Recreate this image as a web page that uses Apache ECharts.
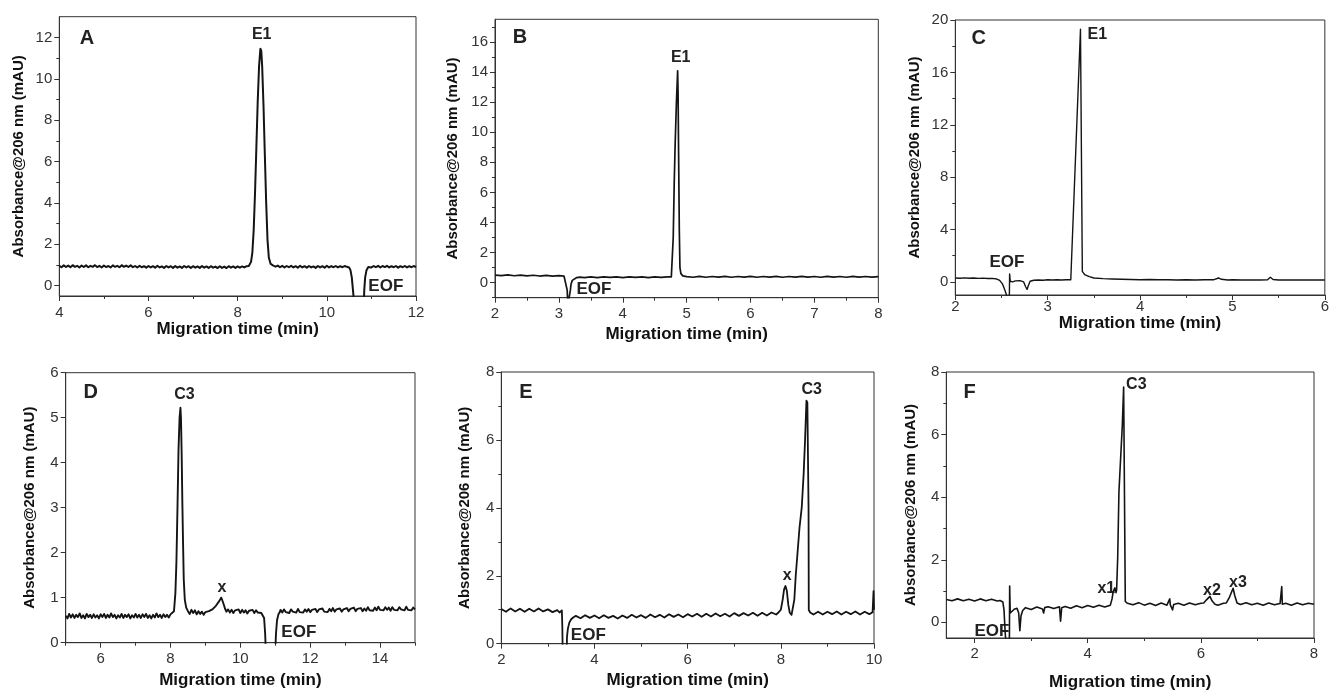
<!DOCTYPE html>
<html>
<head>
<meta charset="utf-8">
<script src="https://cdn.jsdelivr.net/npm/echarts@6/dist/echarts.min.js"></script>
<style>
html,body{margin:0;padding:0;background:#fff;}
#chart{width:1332px;height:692px;}
</style>
</head>
<body>
<div id="chart"></div>
<script>
// ---------- DATA (time in min, absorbance in mAU) ----------
const traceA = [
[4.00,0.96],[4.05,0.89],[4.10,0.98],[4.15,0.90],[4.20,0.97],[4.25,0.89],[4.30,0.99],[4.35,0.91],[4.40,0.96],[4.45,0.88],
[4.50,0.97],[4.55,0.90],[4.60,0.98],[4.65,0.89],[4.70,0.96],[4.75,0.91],[4.80,0.99],[4.85,0.90],[4.90,0.96],[4.95,0.88],
[5.00,0.97],[5.05,0.90],[5.10,0.95],[5.15,0.88],[5.20,0.98],[5.25,0.91],[5.30,0.96],[5.35,0.89],[5.40,0.99],[5.45,0.91],
[5.50,0.97],[5.55,0.90],[5.60,0.98],[5.65,0.89],[5.70,0.95],[5.75,0.88],[5.80,0.96],[5.85,0.89],[5.90,0.94],[5.95,0.87],
[6.00,0.95],[6.05,0.88],[6.10,0.94],[6.15,0.87],[6.20,0.96],[6.25,0.88],[6.30,0.93],[6.35,0.86],[6.40,0.95],[6.45,0.88],
[6.50,0.94],[6.55,0.86],[6.60,0.95],[6.65,0.87],[6.70,0.93],[6.75,0.86],[6.80,0.95],[6.85,0.88],[6.90,0.94],[6.95,0.86],
[7.00,0.94],[7.05,0.87],[7.10,0.93],[7.15,0.86],[7.20,0.95],[7.25,0.87],[7.30,0.93],[7.35,0.86],[7.40,0.94],[7.45,0.87],
[7.50,0.92],[7.55,0.85],[7.60,0.94],[7.65,0.86],[7.70,0.92],[7.75,0.85],[7.80,0.94],[7.85,0.87],[7.90,0.93],[7.95,0.86],
[8.00,0.93],[8.05,0.87],[8.10,0.93],[8.15,0.88],[8.20,0.94],[8.25,0.95],[8.30,1.15],[8.33,1.6],[8.36,2.7],[8.39,4.5],
[8.42,6.7],[8.45,8.9],[8.48,10.6],[8.51,11.45],[8.53,11.35],[8.55,10.6],[8.58,8.7],[8.61,6.3],[8.64,4.0],[8.67,2.2],
[8.70,1.35],[8.74,1.05],[8.80,0.97],[8.85,0.92],[8.90,0.97],[8.95,0.89],[9.00,0.96],[9.05,0.88],[9.10,0.95],[9.15,0.89],
[9.20,0.96],[9.25,0.88],[9.30,0.94],[9.35,0.87],[9.40,0.96],[9.45,0.88],[9.50,0.94],[9.55,0.87],[9.60,0.95],[9.65,0.88],
[9.70,0.93],[9.75,0.86],[9.80,0.95],[9.85,0.88],[9.90,0.94],[9.95,0.87],[10.00,0.96],[10.05,0.88],[10.10,0.94],[10.15,0.89],
[10.20,0.95],[10.25,0.88],[10.30,0.94],[10.35,0.89],[10.40,0.95],[10.45,0.91],[10.50,0.88],[10.53,0.75],[10.56,0.4],[10.59,-0.3],
[10.61,-0.8],[10.83,-0.8],[10.84,-0.2],[10.86,0.4],[10.89,0.75],[10.93,0.90],[10.95,0.94],[11.00,0.88],[11.05,0.95],[11.10,0.89],
[11.15,0.96],[11.20,0.88],[11.25,0.95],[11.30,0.90],[11.35,0.96],[11.40,0.88],[11.45,0.94],[11.50,0.89],[11.55,0.95],[11.60,0.87],
[11.65,0.94],[11.70,0.89],[11.75,0.95],[11.80,0.88],[11.85,0.94],[11.90,0.89],[11.95,0.95],[12.00,0.90]
];
const traceB = [
[2.0,0.50],[2.1,0.47],[2.2,0.52],[2.3,0.46],[2.4,0.50],[2.5,0.45],[2.6,0.49],[2.7,0.44],[2.8,0.48],[2.9,0.43],
[3.0,0.47],[3.08,0.44],[3.11,0.42],[3.13,-0.5],[3.14,-1.5],[3.17,-1.5],[3.18,-0.5],[3.19,-0.1],[3.21,0.15],[3.24,0.28],
[3.28,0.34],[3.33,0.37],[3.4,0.34],[3.5,0.38],[3.6,0.34],[3.7,0.39],[3.8,0.35],[3.9,0.39],[4.0,0.34],[4.1,0.38],
[4.2,0.35],[4.3,0.39],[4.4,0.34],[4.5,0.39],[4.6,0.35],[4.7,0.38],[4.76,0.38],[4.775,0.5],[4.79,3.0],[4.805,6.5],
[4.82,9.2],[4.84,12.0],[4.859,14.08],[4.866,12.5],[4.874,8.6],[4.885,3.5],[4.895,1.0],[4.91,0.6],[4.94,0.45],[5.0,0.40],
[5.1,0.36],[5.2,0.42],[5.3,0.36],[5.4,0.41],[5.5,0.37],[5.6,0.42],[5.7,0.36],[5.8,0.41],[5.9,0.37],[6.0,0.42],
[6.1,0.36],[6.2,0.41],[6.3,0.37],[6.4,0.42],[6.5,0.36],[6.6,0.41],[6.7,0.37],[6.8,0.42],[6.9,0.37],[7.0,0.41],
[7.1,0.36],[7.2,0.42],[7.3,0.37],[7.4,0.41],[7.5,0.36],[7.6,0.42],[7.7,0.37],[7.8,0.41],[7.9,0.37],[8.0,0.40]
];
const traceC = [
[2.0,0.30],[2.05,0.28],[2.1,0.31],[2.15,0.28],[2.2,0.30],[2.25,0.27],[2.3,0.29],[2.35,0.26],[2.4,0.27],[2.45,0.22],
[2.48,0.12],[2.51,-0.15],[2.53,-0.5],[2.55,-0.9],[2.56,-1.2],[2.585,-1.2],[2.588,0.6],[2.595,0.05],[2.62,0.0],[2.65,0.08],
[2.7,0.1],[2.74,0.0],[2.76,-0.35],[2.777,-0.58],[2.79,-0.3],[2.81,0.05],[2.85,0.13],[2.9,0.15],[2.95,0.13],[3.0,0.16],
[3.05,0.14],[3.1,0.16],[3.15,0.15],[3.2,0.17],[3.25,0.16],[3.265,0.2],[3.355,19.3],[3.362,19.3],[3.375,0.8],[3.40,0.55],
[3.45,0.4],[3.5,0.3],[3.6,0.25],[3.7,0.22],[3.8,0.2],[3.9,0.18],[4.0,0.17],[4.1,0.18],[4.2,0.16],[4.3,0.17],
[4.4,0.15],[4.5,0.16],[4.6,0.15],[4.7,0.16],[4.8,0.17],[4.85,0.3],[4.88,0.2],[4.95,0.15],[5.0,0.16],[5.1,0.14],
[5.2,0.15],[5.3,0.14],[5.38,0.16],[5.41,0.35],[5.44,0.18],[5.5,0.14],[5.6,0.15],[5.7,0.14],[5.8,0.15],[5.9,0.14],[6.0,0.15]
];
const traceD = [
[5.00,0.60],[5.05,0.54],[5.10,0.64],[5.15,0.56],[5.20,0.63],[5.25,0.55],[5.30,0.62],[5.35,0.57],[5.40,0.65],[5.45,0.55],
[5.50,0.61],[5.55,0.54],[5.60,0.64],[5.65,0.57],[5.70,0.62],[5.75,0.55],[5.80,0.63],[5.85,0.56],[5.90,0.61],[5.95,0.54],
[6.00,0.63],[6.05,0.57],[6.10,0.64],[6.15,0.55],[6.20,0.62],[6.25,0.56],[6.30,0.65],[6.35,0.57],[6.40,0.62],[6.45,0.54],
[6.50,0.61],[6.55,0.56],[6.60,0.64],[6.65,0.55],[6.70,0.62],[6.75,0.57],[6.80,0.63],[6.85,0.54],[6.90,0.61],[6.95,0.56],
[7.00,0.64],[7.05,0.56],[7.10,0.62],[7.15,0.55],[7.20,0.63],[7.25,0.57],[7.30,0.64],[7.35,0.55],[7.40,0.61],[7.45,0.54],
[7.50,0.62],[7.55,0.56],[7.60,0.65],[7.65,0.57],[7.70,0.62],[7.75,0.55],[7.80,0.63],[7.85,0.57],[7.90,0.62],[7.95,0.56],
[8.00,0.63],[8.05,0.64],[8.10,0.70],[8.14,1.1],[8.17,1.8],[8.20,3.0],[8.23,4.3],[8.26,5.0],[8.285,5.22],[8.30,5.0],
[8.32,4.2],[8.34,3.1],[8.36,2.2],[8.38,1.4],[8.41,0.95],[8.45,0.78],[8.50,0.70],[8.55,0.64],[8.60,0.73],[8.65,0.66],
[8.70,0.72],[8.75,0.63],[8.80,0.70],[8.85,0.64],[8.90,0.69],[8.95,0.62],[9.00,0.68],[9.05,0.64],[9.10,0.70],[9.15,0.67],
[9.20,0.74],[9.25,0.75],[9.30,0.82],[9.35,0.84],[9.40,0.93],[9.45,1.0],[9.48,0.95],[9.52,0.86],[9.56,0.76],[9.60,0.69],
[9.65,0.74],[9.70,0.67],[9.75,0.73],[9.80,0.66],[9.85,0.72],[9.90,0.68],[9.95,0.74],[10.00,0.66],[10.05,0.73],[10.10,0.67],
[10.15,0.72],[10.20,0.65],[10.25,0.71],[10.30,0.67],[10.35,0.73],[10.40,0.66],[10.45,0.72],[10.50,0.67],[10.55,0.71],[10.60,0.66],
[10.65,0.66],[10.68,0.55],[10.71,0.2],[10.73,-0.2],[11.00,-0.2],[11.02,0.2],[11.05,0.5],[11.09,0.63],[11.13,0.68],[11.15,0.73],
[11.20,0.67],[11.25,0.74],[11.30,0.68],[11.35,0.72],[11.40,0.66],[11.45,0.74],[11.50,0.69],[11.55,0.73],[11.60,0.67],[11.65,0.75],
[11.70,0.68],[11.75,0.72],[11.80,0.67],[11.85,0.74],[11.90,0.69],[11.95,0.75],[12.00,0.68],[12.05,0.73],[12.10,0.69],[12.15,0.75],
[12.20,0.68],[12.25,0.74],[12.30,0.70],[12.35,0.76],[12.40,0.69],[12.45,0.73],[12.50,0.68],[12.55,0.75],[12.60,0.70],[12.65,0.77],
[12.70,0.69],[12.75,0.74],[12.80,0.70],[12.85,0.76],[12.90,0.69],[12.95,0.74],[13.00,0.71],[13.05,0.77],[13.10,0.70],[13.15,0.75],
[13.20,0.71],[13.25,0.78],[13.30,0.70],[13.35,0.75],[13.40,0.72],[13.45,0.77],[13.50,0.70],[13.55,0.76],[13.60,0.71],[13.65,0.79],
[13.70,0.72],[13.75,0.76],[13.80,0.71],[13.85,0.78],[13.90,0.72],[13.95,0.80],[14.00,0.73],[14.05,0.77],[14.10,0.72],[14.15,0.79],
[14.20,0.73],[14.25,0.78],[14.30,0.71],[14.35,0.79],[14.40,0.73],[14.45,0.77],[14.50,0.72],[14.55,0.79],[14.60,0.74],[14.65,0.78],
[14.70,0.72],[14.75,0.80],[14.80,0.73],[14.85,0.77],[14.90,0.72],[14.95,0.78],[15.00,0.74]
];
const traceE = [
[2.0,1.02],[2.1,0.94],[2.2,1.04],[2.3,0.95],[2.4,1.03],[2.5,0.94],[2.6,1.03],[2.7,0.95],[2.8,1.04],[2.9,0.95],
[3.0,1.01],[3.1,0.93],[3.2,0.99],[3.25,0.92],[3.30,0.98],[3.31,0.5],[3.32,-0.5],[3.40,-0.5],[3.41,0.2],[3.43,0.45],
[3.46,0.62],[3.50,0.72],[3.55,0.78],[3.6,0.82],[3.7,0.75],[3.8,0.84],[3.9,0.76],[4.0,0.83],[4.1,0.75],[4.2,0.84],
[4.3,0.76],[4.4,0.82],[4.5,0.74],[4.6,0.83],[4.7,0.76],[4.8,0.85],[4.9,0.77],[5.0,0.84],[5.1,0.76],[5.2,0.86],
[5.3,0.78],[5.4,0.85],[5.5,0.77],[5.6,0.87],[5.7,0.79],[5.8,0.86],[5.9,0.78],[6.0,0.87],[6.1,0.80],[6.2,0.88],
[6.3,0.79],[6.4,0.88],[6.5,0.80],[6.6,0.89],[6.7,0.81],[6.8,0.88],[6.9,0.80],[7.0,0.90],[7.1,0.82],[7.2,0.90],
[7.3,0.83],[7.4,0.91],[7.5,0.82],[7.6,0.91],[7.7,0.83],[7.8,0.92],[7.9,0.86],[7.95,0.92],[8.00,1.0],[8.04,1.3],
[8.07,1.6],[8.10,1.70],[8.13,1.55],[8.16,1.15],[8.19,0.92],[8.23,0.85],[8.26,0.88],[8.29,1.3],[8.32,2.0],[8.36,2.7],
[8.40,3.4],[8.45,4.03],[8.49,5.0],[8.52,5.99],[8.55,7.16],[8.57,7.1],[8.595,4.0],[8.60,0.99],[8.63,0.92],[8.7,0.86],
[8.8,0.94],[8.9,0.86],[9.0,0.94],[9.1,0.87],[9.2,0.95],[9.3,0.86],[9.4,0.94],[9.5,0.87],[9.6,0.95],[9.7,0.86],
[9.8,0.94],[9.9,0.87],[9.97,0.93],[9.99,1.55],[10.0,1.0]
];
const traceF = [
[1.5,0.73],[1.6,0.69],[1.7,0.75],[1.8,0.69],[1.9,0.74],[2.0,0.68],[2.1,0.75],[2.2,0.69],[2.3,0.74],[2.4,0.68],
[2.45,0.70],[2.50,0.65],[2.52,0.4],[2.54,-0.3],[2.56,-0.8],[2.615,-0.8],[2.62,1.16],[2.63,0.3],[2.66,0.35],[2.7,0.42],
[2.75,0.45],[2.78,0.3],[2.80,-0.27],[2.82,0.2],[2.85,0.38],[2.9,0.47],[3.0,0.41],[3.1,0.49],[3.2,0.43],[3.22,0.3],
[3.24,0.47],[3.3,0.50],[3.4,0.44],[3.5,0.50],[3.52,0.04],[3.54,0.47],[3.6,0.51],[3.7,0.45],[3.8,0.53],[3.9,0.47],
[4.0,0.54],[4.1,0.48],[4.2,0.55],[4.3,0.49],[4.4,0.55],[4.43,0.75],[4.45,0.98],[4.48,1.1],[4.50,0.95],[4.511,1.04],
[4.53,2.08],[4.552,4.18],[4.611,6.28],[4.635,7.52],[4.645,7.52],[4.664,0.67],[4.7,0.61],[4.8,0.56],[4.9,0.63],[5.0,0.55],
[5.1,0.61],[5.2,0.54],[5.3,0.62],[5.4,0.55],[5.45,0.75],[5.46,0.56],[5.5,0.40],[5.52,0.57],[5.6,0.61],[5.7,0.55],
[5.8,0.62],[5.9,0.56],[6.0,0.61],[6.05,0.62],[6.1,0.72],[6.16,0.83],[6.2,0.68],[6.25,0.58],[6.3,0.55],[6.4,0.61],
[6.45,0.62],[6.5,0.78],[6.57,1.09],[6.6,0.85],[6.64,0.62],[6.7,0.57],[6.8,0.63],[6.9,0.56],[7.0,0.61],[7.1,0.55],
[7.2,0.62],[7.3,0.56],[7.4,0.60],[7.43,1.14],[7.44,0.58],[7.5,0.61],[7.6,0.55],[7.7,0.62],[7.8,0.56],[7.9,0.61],[8.0,0.58]
];

// ---------- TICKS ----------
const xTicksA = [4,6,8,10,12],            xMinorA = [5,7,9,11];
const yTicksA = [0,2,4,6,8,10,12],        yMinorA = [1,3,5,7,9,11];
const xTicksB = [2,3,4,5,6,7,8],          xMinorB = [2.5,3.5,4.5,5.5,6.5,7.5];
const yTicksB = [0,2,4,6,8,10,12,14,16],  yMinorB = [-1,1,3,5,7,9,11,13,15,17];
const xTicksC = [2,3,4,5,6],              xMinorC = [2.5,3.5,4.5,5.5];
const yTicksC = [0,4,8,12,16,20],         yMinorC = [2,6,10,14,18];
const xTicksD = [6,8,10,12,14],           xMinorD = [5,7,9,11,13,15];
const yTicksD = [0,1,2,3,4,5,6],          yMinorD = [];
const xTicksE = [2,4,6,8,10],             xMinorE = [3,5,7,9];
const yTicksE = [0,2,4,6,8],              yMinorE = [1,3,5,7];
const xTicksF = [2,4,6,8],                xMinorF = [3,5,7];
const yTicksF = [0,2,4,6,8],              yMinorF = [1,3,5,7];

const xTitle = 'Migration time (min)';
const yTitle = 'Absorbance@206 nm (mAU)';

// ---------- LAYOUT ----------
const panels = [
 {letter:'A', trace:traceA, lw:2.0, grid:[59.3,16.7,356.7,279.3], x:[4,12], y:[-0.5,13], xt:xTicksA, xm:xMinorA, yt:yTicksA, ym:yMinorA,
  xMargin:9, xGap:25, yGap:33, lp:[87,38.5],
  notes:[['E1',261.7,34.3],['EOF',385.8,286]]},
 {letter:'B', trace:traceB, lw:1.7, grid:[495,19.3,383.3,278.4], x:[2,8], y:[-1,17.5], xt:xTicksB, xm:xMinorB, yt:yTicksB, ym:yMinorB,
  xMargin:9, xGap:28, yGap:35, lp:[520,37.7],
  notes:[['E1',680.7,57.7],['EOF',594,289.3]]},
 {letter:'C', trace:traceC, lw:1.4, grid:[955.3,20,374.4,275], x:[2,6], y:[-1,20], xt:xTicksC, xm:xMinorC, yt:yTicksC, ym:yMinorC,
  xMargin:4, xGap:15, yGap:33, lp:[978.7,38.3],
  notes:[['E1',1097.3,34.3],['EOF',1007,262.3]]},
 {letter:'D', trace:traceD, lw:1.9, grid:[65.7,372.7,349.3,270], x:[5,15], y:[0,6], xt:xTicksD, xm:xMinorD, yt:yTicksD, ym:yMinorD,
  xMargin:9, xGap:29, yGap:28, lp:[90.8,392.7],
  notes:[['C3',184.5,394.3],['x',222,588],['EOF',298.8,632]]},
 {letter:'E', trace:traceE, lw:1.8, grid:[501.3,372,372.7,271.7], x:[2,10], y:[0,8], xt:xTicksE, xm:xMinorE, yt:yTicksE, ym:yMinorE,
  xMargin:9, xGap:28, yGap:29, lp:[526,392.7],
  notes:[['C3',811.7,390],['x',787.3,576],['EOF',588.3,635.3]]},
 {letter:'F', trace:traceF, lw:1.6, grid:[946.3,372,367.7,270], x:[1.5,8], y:[-0.5,8], xt:xTicksF, xm:xMinorF, yt:yTicksF, ym:yMinorF,
  xMargin:8, xGap:36, yGap:28, lp:[969.7,392.7],
  notes:[['C3',1136.3,385],['x1',1106.3,588.7],['x2',1212,591],['x3',1238,582.7],['EOF',992,631.7]]}
];

const FONT = '"Liberation Sans", Arial, Helvetica, sans-serif';
const AX = '#333';
const grids=[], xAxes=[], yAxes=[], series=[], graphics=[];

panels.forEach((p,i)=>{
  grids.push({left:p.grid[0], top:p.grid[1], width:p.grid[2], height:p.grid[3],
    show:true, borderColor:AX, borderWidth:1, backgroundColor:'transparent', containLabel:false});
  xAxes.push({gridIndex:i, type:'value', min:p.x[0], max:p.x[1], position:'bottom',
    axisLine:{show:true, onZero:false, lineStyle:{color:AX, width:1}},
    axisTick:{show:true, customValues:p.xt, length:5, lineStyle:{color:AX, width:1}},
    axisLabel:{show:true, customValues:p.xt, margin:p.xMargin, color:'#333', fontSize:15, fontFamily:FONT},
    splitLine:{show:false},
    name:xTitle, nameLocation:'middle', nameGap:p.xGap,
    nameTextStyle:{fontSize:17, fontWeight:'bold', color:'#111', fontFamily:FONT}});
  xAxes.push({gridIndex:i, type:'value', min:p.x[0], max:p.x[1], position:'bottom',
    axisLine:{show:false, onZero:false},
    axisTick:{show:true, customValues:p.xm, length:3, lineStyle:{color:AX, width:1}},
    axisLabel:{show:false}, splitLine:{show:false}});
  yAxes.push({gridIndex:i, type:'value', min:p.y[0], max:p.y[1], position:'left',
    axisLine:{show:true, onZero:false, lineStyle:{color:AX, width:1}},
    axisTick:{show:true, customValues:p.yt, length:5, lineStyle:{color:AX, width:1}},
    axisLabel:{show:true, customValues:p.yt, margin:7, color:'#333', fontSize:15, fontFamily:FONT},
    splitLine:{show:false},
    name:yTitle, nameLocation:'middle', nameGap:p.yGap,
    nameTextStyle:{fontSize:15, fontWeight:'bold', color:'#111', fontFamily:FONT}});
  yAxes.push({gridIndex:i, type:'value', min:p.y[0], max:p.y[1], position:'left',
    axisLine:{show:false, onZero:false},
    axisTick:{show:p.ym.length>0, customValues:p.ym.length?p.ym:[p.y[0]], length:3, lineStyle:{color:AX, width:1}},
    axisLabel:{show:false}, splitLine:{show:false}});
  series.push({type:'line', xAxisIndex:2*i, yAxisIndex:2*i, data:p.trace, showSymbol:false, symbol:'none',
    clip:true, smooth:false, lineStyle:{color:'#141414', width:p.lw, join:'round'}, animation:false, silent:true});
  graphics.push({type:'text', x:p.lp[0], y:p.lp[1], style:{text:p.letter, fontSize:20, fontWeight:'bold',
    fontFamily:FONT, fill:'#222', align:'center', verticalAlign:'middle'}});
  p.notes.forEach(n=>{
    graphics.push({type:'text', x:n[1], y:n[2], style:{text:n[0], fontSize:n[0]==='EOF'?17:16, fontWeight:'bold',
      fontFamily:FONT, fill:'#222', align:'center', verticalAlign:'middle'}});
  });
});

const chart = echarts.init(document.getElementById('chart'), null, {renderer:'canvas'});
chart.setOption({
  animation:false,
  backgroundColor:'#fff',
  grid:grids, xAxis:xAxes, yAxis:yAxes, series:series, graphic:graphics
});
</script>
</body>
</html>
